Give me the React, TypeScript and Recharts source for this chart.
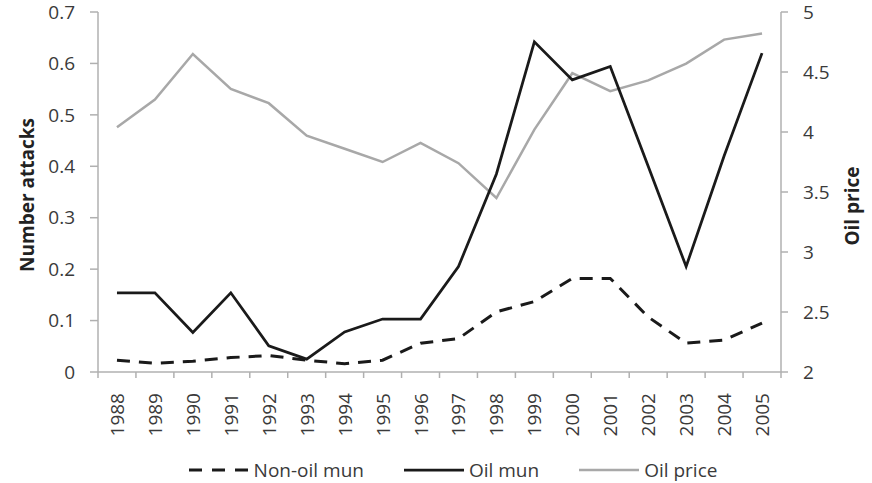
import React from 'react';
import { LineChart, Line, XAxis, YAxis, Legend } from 'recharts';

const years = ['1988','1989','1990','1991','1992','1993','1994','1995','1996','1997','1998','1999','2000','2001','2002','2003','2004','2005'];
const nonOilMun = [0.023,0.017,0.021,0.028,0.032,0.023,0.016,0.023,0.056,0.065,0.117,0.137,0.182,0.182,0.107,0.056,0.062,0.095];
const oilMun = [0.154,0.154,0.077,0.154,0.051,0.025,0.078,0.103,0.103,0.205,0.385,0.642,0.568,0.594,0.40,0.205,0.42,0.62];
const oilPrice = [4.04,4.27,4.65,4.36,4.24,3.97,3.86,3.75,3.91,3.74,3.45,4.02,4.49,4.34,4.43,4.57,4.77,4.82];
const leftTicks = [0,0.1,0.2,0.3,0.4,0.5,0.6,0.7];
const rightTicks = [2,2.5,3,3.5,4,4.5,5];

const data = years.map((y, i) => ({ year: y, nonOil: nonOilMun[i], oil: oilMun[i], price: oilPrice[i] }));

const AXIS = '#b0b0b0';
const TEXT = '#3a3a3a';
const FONT = "'Open Sans', sans-serif";
const HALF = 18.97;

const XTick = (props: any) => {
  const { x, y, payload, index } = props;
  return (
    <g>
      <line x1={x - HALF} x2={x - HALF} y1={y} y2={y + 6} stroke={AXIS} strokeWidth={1.5} />
      {index === years.length - 1 && (
        <line x1={x + HALF} x2={x + HALF} y1={y} y2={y + 6} stroke={AXIS} strokeWidth={1.5} />
      )}
      <text
        x={x}
        y={y + 21}
        transform={`rotate(-90, ${x}, ${y + 21})`}
        textAnchor="end"
        dominantBaseline="central"
        fill={TEXT}
        fontSize={19}
        fontFamily={FONT}
      >
        {payload.value}
      </text>
    </g>
  );
};

const LegendContent = () => {
  const item = (label: string, color: string, dash?: string, w = 2.75) => (
    <div style={{ display: 'flex', alignItems: 'center', marginRight: 40 }}>
      <svg width={60} height={10} style={{ marginRight: 5 }}>
        <line x1={0} x2={60} y1={5} y2={5} stroke={color} strokeWidth={w} strokeDasharray={dash} />
      </svg>
      <span style={{ fontSize: 19, color: TEXT, fontFamily: FONT }}>{label}</span>
    </div>
  );
  return (
    <div style={{ height: 26, display: 'flex', justifyContent: 'center', alignItems: 'center', paddingLeft: 74 }}>
      {item('Non-oil mun', '#1a1a1a', '13 10', 3)}
      {item('Oil mun', '#1a1a1a')}
      {item('Oil price', '#a8a8a8', undefined, 2.5)}
    </div>
  );
};

export default function App() {
  return (
    <div style={{ position: 'absolute', left: 0, top: 0, width: 872, height: 483, background: '#fff', fontFamily: FONT }}>
      <LineChart width={872} height={483} data={data} margin={{ top: 12, right: 0, bottom: 0, left: 0 }}>
        <XAxis
          dataKey="year"
          padding={{ left: HALF, right: HALF }}
          height={85}
          tickSize={0}
          tickMargin={0}
          tickLine={false}
          axisLine={{ stroke: AXIS, strokeWidth: 1.5 }}
          tick={<XTick />}
          interval={0}
        />
        <YAxis
          yAxisId="left"
          width={98}
          domain={[0, 0.7]}
          ticks={leftTicks}
          tickFormatter={(v: number) => (v === 0 ? '0' : v.toFixed(1))}
          tickSize={8}
          tickMargin={15}
          axisLine={{ stroke: AXIS, strokeWidth: 1.5 }}
          tickLine={{ stroke: AXIS, strokeWidth: 1.5 }}
          tick={{ fill: TEXT, fontSize: 19, fontFamily: FONT }}
          label={(p: any) => {
            const vb = p.viewBox || {};
            const cy = (vb.y ?? 12) + (vb.height ?? 360) / 2 + 3;
            return (
              <text x={27} y={cy} transform={`rotate(-90, 27, ${cy})`} textAnchor="middle" dominantBaseline="central" fill="#222" fontSize={19} fontWeight="bold" fontFamily={FONT}>
                Number attacks
              </text>
            );
          }}
        />
        <YAxis
          yAxisId="right"
          orientation="right"
          width={91}
          domain={[2, 5]}
          ticks={rightTicks}
          tickFormatter={(v: number) => (Number.isInteger(v) ? String(v) : v.toFixed(1))}
          tickSize={7}
          tickMargin={15}
          axisLine={{ stroke: AXIS, strokeWidth: 1.5 }}
          tickLine={{ stroke: AXIS, strokeWidth: 1.5 }}
          tick={{ fill: TEXT, fontSize: 19, fontFamily: FONT }}
          label={(p: any) => {
            const vb = p.viewBox || {};
            const cy = (vb.y ?? 12) + (vb.height ?? 360) / 2 + 14;
            return (
              <text x={852} y={cy} transform={`rotate(-90, 852, ${cy})`} textAnchor="middle" dominantBaseline="central" fill="#222" fontSize={19} fontWeight="bold" fontFamily={FONT}>
                Oil price
              </text>
            );
          }}
        />
        <Legend verticalAlign="bottom" content={<LegendContent />} />
        <Line yAxisId="right" dataKey="price" stroke="#a8a8a8" strokeWidth={2.5} dot={false} isAnimationActive={false} />
        <Line yAxisId="left" dataKey="nonOil" stroke="#1a1a1a" strokeWidth={3} strokeDasharray="13 9" dot={false} isAnimationActive={false} />
        <Line yAxisId="left" dataKey="oil" stroke="#1a1a1a" strokeWidth={2.75} dot={false} isAnimationActive={false} />
      </LineChart>
    </div>
  );
}
